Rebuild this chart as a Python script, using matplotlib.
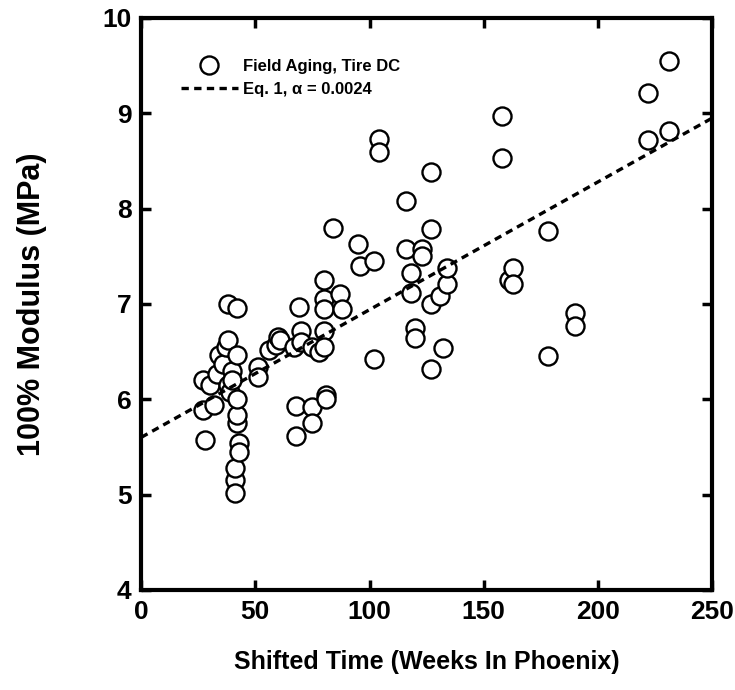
import matplotlib
matplotlib.use("Agg")
import matplotlib.pyplot as plt

# field aging data, tire DC
weeks = [27, 27, 28, 30, 32, 33, 34, 36, 37, 38, 38, 38, 39, 40, 40,
         41, 41, 41, 42, 42, 42, 42, 42, 43, 43, 51, 51, 56, 59, 60,
         61, 67, 68, 68, 69, 70, 70, 75, 75, 75, 78, 80, 80, 80, 80,
         80, 81, 81, 84, 87, 88, 95, 96, 102, 102, 104, 104, 116, 116, 118,
         118, 120, 120, 123, 123, 127, 127, 127, 127, 131, 132, 134, 134, 158, 158,
         161, 163, 163, 178, 178, 190, 190, 222, 222, 231, 231]
modulus = [6.2, 5.89, 5.57, 6.15, 5.94, 6.27, 6.46, 6.37, 6.55, 6.62, 6.15, 7.0, 6.08, 6.3, 6.2,
           5.15, 5.28, 5.02, 5.75, 5.83, 6.0, 6.46, 6.96, 5.54, 5.45, 6.34, 6.23, 6.52, 6.57, 6.65,
           6.62, 6.55, 5.93, 5.62, 6.97, 6.72, 6.6, 6.55, 5.92, 5.75, 6.5, 7.25, 7.05, 6.95, 6.72,
           6.55, 6.05, 6.0, 7.8, 7.1, 6.95, 7.63, 7.4, 7.45, 6.42, 8.73, 8.59, 8.08, 7.58, 7.32,
           7.12, 6.75, 6.64, 7.58, 7.5, 8.38, 7.79, 7.0, 6.32, 7.08, 6.54, 7.21, 7.38, 8.97, 8.53,
           7.25, 7.38, 7.21, 7.77, 6.45, 6.9, 6.77, 9.21, 8.72, 9.55, 8.81]

# Eq. 1 curve end points
fit_x = [0, 250]
fit_y = [5.6, 8.95]

plt.rcParams['font.family'] = ['Liberation Sans', 'DejaVu Sans']
plt.rcParams['font.weight'] = 'bold'

fig = plt.figure(figsize=(7.35, 6.9), dpi=100)
ax = fig.add_axes([0.192, 0.145, 0.777, 0.829])

ax.plot(weeks, modulus, 'o', ms=13, mfc='white', mec='black', mew=1.7,
        label='Field Aging, Tire DC')
ax.plot(fit_x, fit_y, '--', color='black', lw=2.4, dashes=(2.2, 1.6),
        label='Eq. 1, \u03b1 = 0.0024')

ax.set_xlim(0, 250)
ax.set_ylim(4, 10)
ax.set_xticks([0, 50, 100, 150, 200, 250])
ax.set_yticks([4, 5, 6, 7, 8, 9, 10])
ax.tick_params(direction='in', length=7, width=2.5, labelsize=19, pad=7,
               top=True, right=True)
for lab in ax.get_xticklabels() + ax.get_yticklabels():
    lab.set_fontweight('bold')
for s in ax.spines.values():
    s.set_linewidth(3)

ax.set_xlabel('Shifted Time (Weeks In Phoenix)', fontsize=18, fontweight='bold', labelpad=19)
ax.set_ylabel('100% Modulus (MPa)', fontsize=22, fontweight='bold', labelpad=40)

leg = ax.legend(loc='upper left', bbox_to_anchor=(0.07, 0.928), frameon=False,
                prop={'size': 12, 'weight': 'bold'}, handlelength=3.4,
                handletextpad=0.3, labelspacing=0.45, borderaxespad=0,
                borderpad=0)

fig.savefig('out.png', dpi=100)
